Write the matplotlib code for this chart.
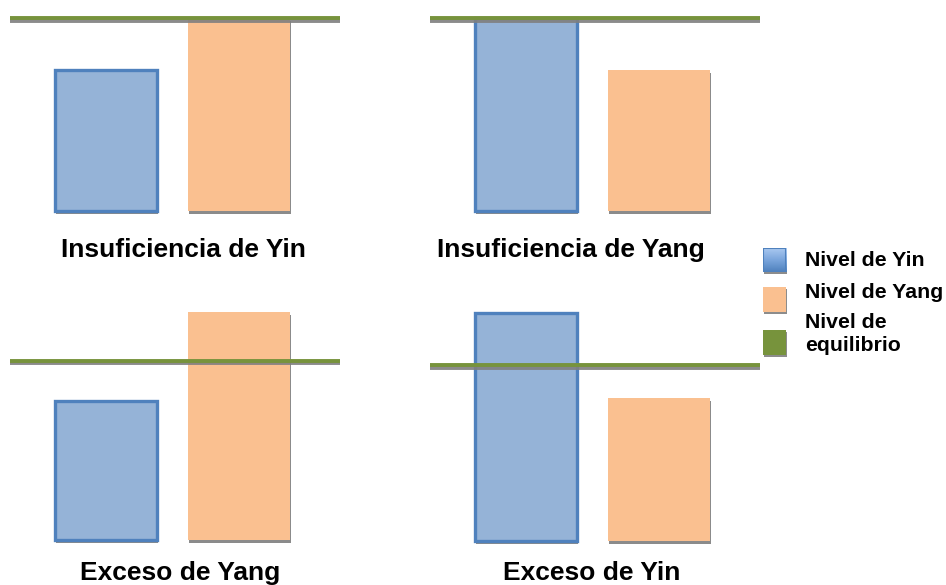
import matplotlib
matplotlib.use("Agg")
import numpy as np
import matplotlib.pyplot as plt
import matplotlib.patheffects as pe
from matplotlib.colors import LinearSegmentedColormap

plt.rcParams['font.family'] = ['Liberation Sans', 'DejaVu Sans']

# levels per panel (same units everywhere)
titles = ["Insuficiencia de Yin", "Insuficiencia de Yang", "Exceso de Yang", "Exceso de Yin"]
yin_level = [73, 100, 72, 118]
yang_level = [100, 73, 118, 74]
equilibrium = [100, 100, 93, 91]
legend_labels = ["Nivel de Yin", "Nivel de Yang", "Nivel de\nequilibrio"]

YIN_FACE = "#95b3d7"
YIN_EDGE = "#4f81bd"
YANG_FACE = "#fac090"
EQ_COLOR = "#77933c"

W, H = 946, 585
PX = 1.93  # pixels per unit of level

fig = plt.figure(figsize=(W / 100, H / 100), dpi=100)

# panel boxes in pixels: left, right, baseline, title centre x, title y
boxes = [
    (10, 340, 211, 183, 250),
    (430, 760, 211, 571, 250),
    (10, 340, 540, 180, 573),
    (430, 760, 541, 592, 573),
]

shadow = [pe.SimplePatchShadow(offset=(0.6, -2), shadow_rgbFace="#7f7f7f", alpha=0.9), pe.Normal()]
line_shadow = [pe.SimpleLineShadow(offset=(0.5, -2), shadow_color="#7f7f7f", alpha=0.9), pe.Normal()]

for i, (x0, x1, base, tx, ty) in enumerate(boxes):
    hpx = 240
    ax = fig.add_axes([x0 / W, (H - base) / H, (x1 - x0) / W, hpx / H])
    ax.set_xlim(-0.72, 1.76)
    ax.set_ylim(0, hpx / PX)
    ax.axis("off")

    b1 = ax.bar(0, yin_level[i], width=0.767, color=YIN_FACE, edgecolor=YIN_EDGE,
                linewidth=2.4, zorder=2, clip_on=False)
    b2 = ax.bar(1, yang_level[i], width=0.767, color=YANG_FACE, linewidth=0, zorder=2,
                clip_on=False)
    for b in list(b1) + list(b2):
        b.set_path_effects(shadow)

    ax.axhline(equilibrium[i], color=EQ_COLOR, linewidth=2.8, zorder=3,
               path_effects=line_shadow)

    fig.text(tx / W, 1 - ty / H, titles[i], ha="center", va="center",
             fontsize=19, fontweight="bold")

# legend drawn by hand on the right: swatch top, swatch bottom, text y
legend_swatch = [(248, 272), (287, 312), (330, 355)]
legend_text_y = [260, 292, 334]
gradient = LinearSegmentedColormap.from_list("yin", ["#a9c8f0", "#7aa5dc", "#4f81bd"])
swatch_colors = [None, YANG_FACE, EQ_COLOR]
for (top, bot), lty, lab, fc in zip(legend_swatch, legend_text_y, legend_labels, swatch_colors):
    # grey drop shadow below each swatch
    fig.add_artist(plt.Rectangle((764 / W, 1 - (bot + 2) / H), 23 / W, (bot - top) / H,
                                 transform=fig.transFigure, facecolor="#8c8c8c",
                                 edgecolor="none", zorder=0))
    sax = fig.add_axes([763 / W, 1 - bot / H, 23 / W, (bot - top) / H])
    sax.set_xlim(0, 1)
    sax.set_ylim(0, 1)
    sax.axis("off")
    if fc is None:
        sax.imshow(np.linspace(0, 1, 50).reshape(-1, 1), cmap=gradient, aspect="auto",
                   extent=(0, 1, 0, 1), origin="upper")
        sax.add_patch(plt.Rectangle((0, 0), 1, 1, facecolor="none", edgecolor=YIN_EDGE,
                                    linewidth=1.5))
    else:
        sax.add_patch(plt.Rectangle((0, 0), 1, 1, facecolor=fc, edgecolor="none"))
    fig.text(805 / W, 1 - lty / H, lab, ha="left", va="center",
             fontsize=15.3, fontweight="bold", linespacing=1.25)

fig.savefig("out.png", dpi=100)
